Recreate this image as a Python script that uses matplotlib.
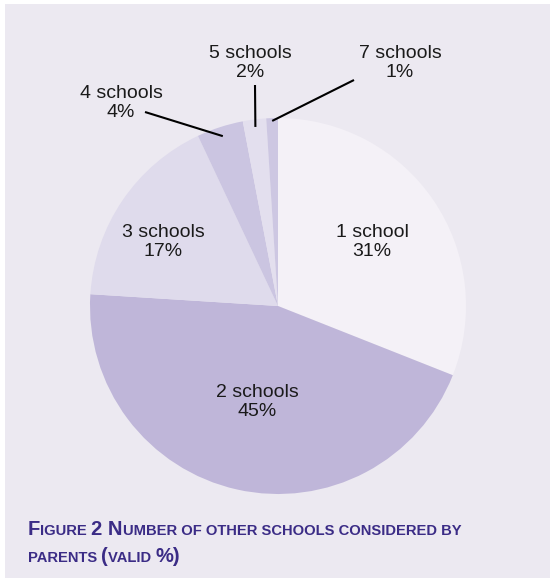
import numpy as np
import matplotlib
matplotlib.use("Agg")
import matplotlib.pyplot as plt

categories = ["1 school", "2 schools", "3 schools", "4 schools", "5 schools", "7 schools"]
values = [31, 45, 17, 4, 2, 1]
colors = ["#f4f1f7", "#bfb6d9", "#dfdbec", "#cbc5e1", "#e3dfee", "#cdc7e2"]

W, H = 550, 578
fig = plt.figure(figsize=(W / 100, H / 100), dpi=100)
fig.patch.set_facecolor("white")
bg = "#ece9f1"
bgax = fig.add_axes([5 / W, 0, 1 - 5 / W, 1 - 4 / H], zorder=-10)
bgax.set_facecolor(bg)
bgax.set_xticks([]); bgax.set_yticks([])
for s in bgax.spines.values():
    s.set_visible(False)

cx, cy, R = 278, 306, 188
ax = fig.add_axes([(cx - R) / W, (H - cy - R) / H, 2 * R / W, 2 * R / H], zorder=1)
ax.set_axis_off()
wedges, _ = ax.pie(values, colors=colors, startangle=90, counterclock=False,
                   radius=1.0, wedgeprops=dict(edgecolor="none", linewidth=0))
ax.set_xlim(-1, 1)
ax.set_ylim(-1, 1)

def px2d(px, py):
    return (px - cx) / R, (cy - py) / R

font = "Liberation Sans"
fs = 14
tc = "#1a1a1a"
label_px = [(372, 242), (257, 402), (163, 242), (121, 103), (250, 63), (400, 63)]
for cat, v, (px, py) in zip(categories, values, label_px):
    x, y = px2d(px, py)
    ax.text(x, y, f"{cat}\n{v}%", ha="center", va="center", fontsize=fs,
            family=font, color=tc, linespacing=1.22, clip_on=False)

total = sum(values)
cum = np.cumsum([0] + values)
line_starts = {3: (145, 112), 4: (255, 85), 5: (354, 80)}
line_r = {3: 0.95, 4: 0.96, 5: 0.985}
for i, (sx, sy) in line_starts.items():
    mid = 90 - 360 * (cum[i] + values[i] / 2) / total
    ex, ey = line_r[i] * np.cos(np.radians(mid)), line_r[i] * np.sin(np.radians(mid))
    x0, y0 = px2d(sx, sy)
    ax.plot([x0, ex], [y0, ey], color="black", lw=1.5, clip_on=False, solid_capstyle="butt")

title_color = "#3b2c86"
big, small = 14.5, 10.6
renderer = fig.canvas.get_renderer()

def smallcaps_line(text, x_px, base_px):
    x = x_px
    runs = []
    for ch in text:
        is_big = ch.isupper() or ch.isdigit() or ch in "()%"
        if ch == " ":
            is_big = runs[-1][1] if runs else False
        if runs and runs[-1][1] == is_big:
            runs[-1][0] += ch
        else:
            runs.append([ch, is_big])
    for s, isb in runs:
        t = fig.text(x / W, 1 - base_px / H, s.upper() if not isb else s,
                     fontsize=big if isb else small, family=font, weight="bold",
                     color=title_color, ha="left", va="baseline", zorder=5)
        bb = t.get_window_extent(renderer)
        x += bb.width

smallcaps_line("Figure 2 Number of other schools considered by", 28, 535)
smallcaps_line("parents (valid %)", 28, 562)

fig.savefig("out.png", dpi=100, facecolor="white")
